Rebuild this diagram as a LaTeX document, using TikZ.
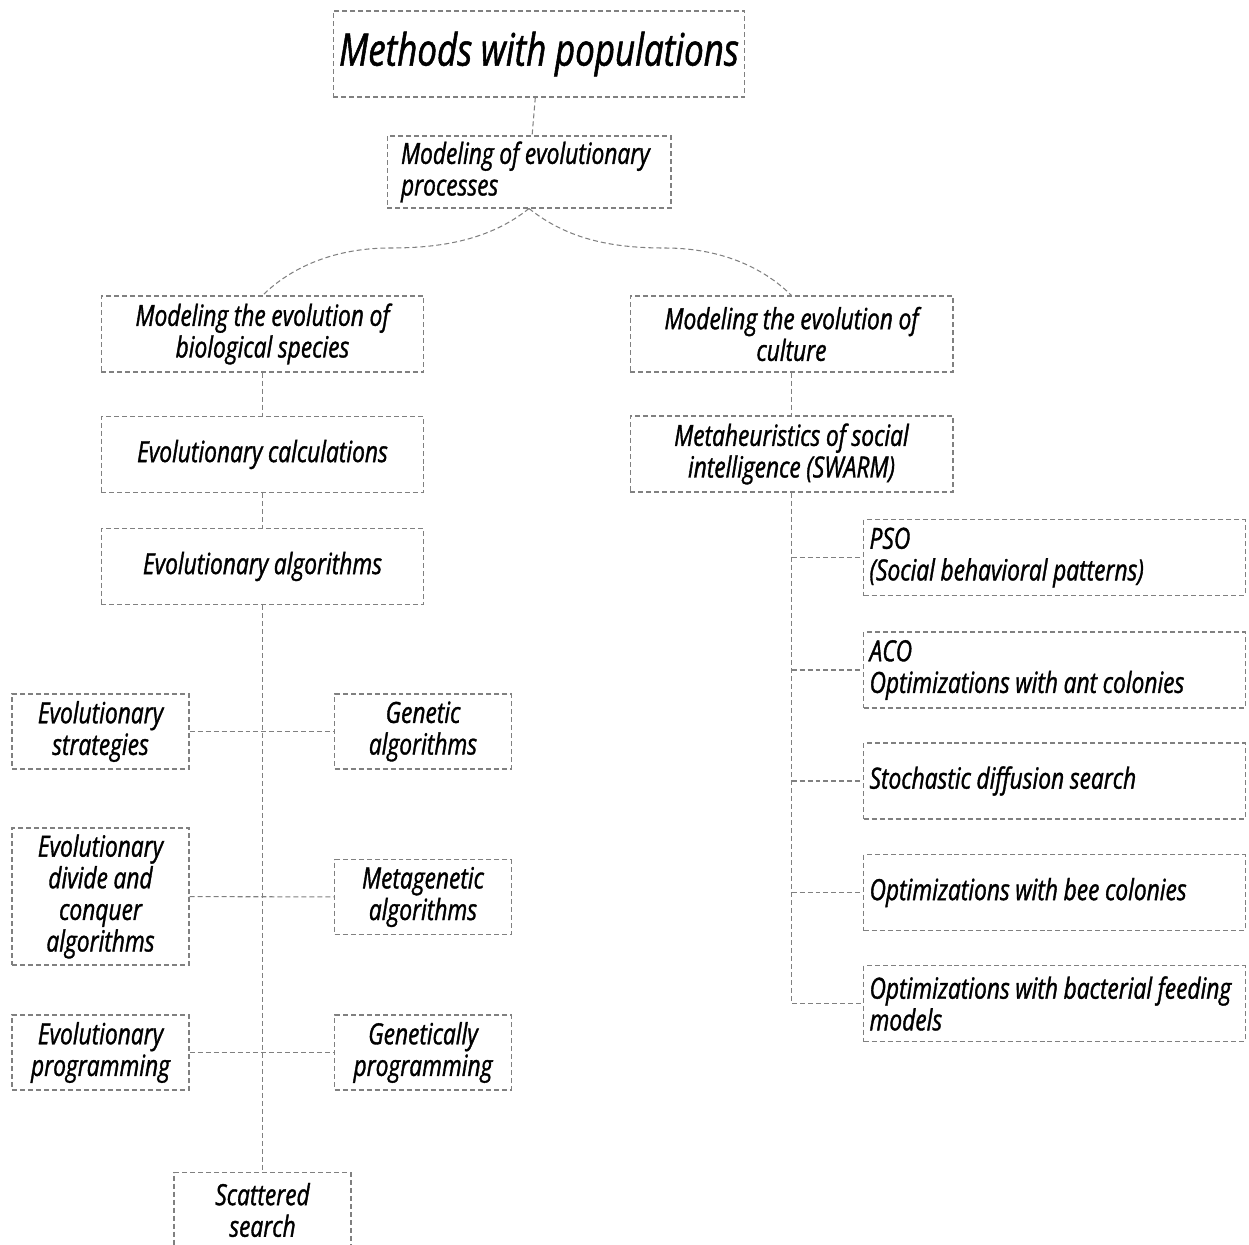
\documentclass[tikz,border=0pt]{standalone}
\usepackage{fontspec}
\setmainfont{Open Sans}[FakeStretch=0.78, FakeBold=1.2, WordSpace=0.95]
\usetikzlibrary{positioning}

\definecolor{dashgray}{HTML}{808080}
\tikzset{
  box/.style={draw=dashgray, dash pattern=on 0.1cm off 0.06cm, line width=0.6pt, align=center, inner sep=0pt, font=\fontsize{16.6}{18}\selectfont\itshape},
  widebox/.style={box, minimum width=6.46cm, minimum height=1.52cm},
  smallbox/.style={box, minimum width=3.54cm, minimum height=1.5cm},
  listbox/.style={box, anchor=west, align=flush left, text width=7.4cm, inner xsep=0.12cm, minimum height=1.52cm},
  link/.style={draw=dashgray, dash pattern=on 0.1cm off 0.06cm, line width=0.6pt},
}

\begin{document}
\begin{tikzpicture}[x=0.02cm, y=-0.02cm]
\useasboundingbox (0,0) rectangle (1249,1245);

\node[box, minimum width=8.24cm, minimum height=1.72cm, font=\fontsize{25.5}{28}\selectfont\itshape] (methods) at (539,54) {Methods with populations};
\node[box, align=flush left, text width=5.12cm, inner xsep=0.28cm, minimum height=1.44cm] (evoproc) at (529,172) {Modeling of evolutionary\\processes};

\node[widebox] (bio) at (262.5,334) {Modeling the evolution of\\biological species};
\node[widebox] (culture) at (791.5,334) {Modeling the evolution of\\culture};
\node[widebox] (evocalc) at (262.5,454.5) {Evolutionary calculations};
\node[widebox] (evoalg) at (262.5,566.5) {Evolutionary algorithms};
\node[widebox] (swarm) at (791.5,454) {Metaheuristics of social\\intelligence (SWARM)};

% left branch
\node[smallbox] (evostrat) at (100.5,731.5) {Evolutionary\\strategies};
\node[smallbox] (genalg) at (423,731.5) {Genetic\\algorithms};
\node[smallbox, minimum height=2.74cm] (divide) at (100.5,896.5) {Evolutionary\\divide and\\conquer\\algorithms};
\node[smallbox] (metagen) at (423,897) {Metagenetic\\algorithms};
\node[smallbox] (evoprog) at (100.5,1052.5) {Evolutionary\\programming};
\node[smallbox] (genprog) at (423,1052.5) {Genetically\\programming};
\node[smallbox, minimum height=1.5cm] (scatter) at (262.5,1210) {Scattered\\search};

% right branch
\node[listbox] (pso) at (863,557.5) {PSO\\(Social behavioral patterns)};
\node[listbox] (aco) at (863,670) {ACO\\Optimizations with ant colonies};
\node[listbox] (sds) at (863,781) {Stochastic diffusion search};
\node[listbox] (bee) at (863,892.5) {Optimizations with bee colonies};
\node[listbox] (bact) at (863,1003.5) {Optimizations with bacterial feeding\\models};

\coordinate (lflat) at (390,248);
\coordinate (rflat) at (665,248);

\draw[link] (methods) -- (evoproc);
\draw[link] (evoproc.south) .. controls +(-40,32) and +(50,0) .. (lflat) .. controls +(-60,0) and +(25,-25) .. (bio.north);
\draw[link] (evoproc.south) .. controls +(40,32) and +(-50,0) .. (rflat) .. controls +(60,0) and +(-25,-25) .. (culture.north);
\draw[link] (bio) -- (evocalc);
\draw[link] (evocalc) -- (evoalg);
\draw[link] (evoalg) -- (scatter);
\draw[link] (evostrat) -- (genalg);
\draw[link] (divide) -- (metagen);
\draw[link] (evoprog) -- (genprog);

\draw[link] (culture) -- (swarm);
\draw[link] (swarm.south) -- (swarm.south |- bact.west) -- (bact.west);
\foreach \n in {pso, aco, sds, bee}
  \draw[link] (swarm.south |- \n.west) -- (\n.west);

\end{tikzpicture}
\end{document}
